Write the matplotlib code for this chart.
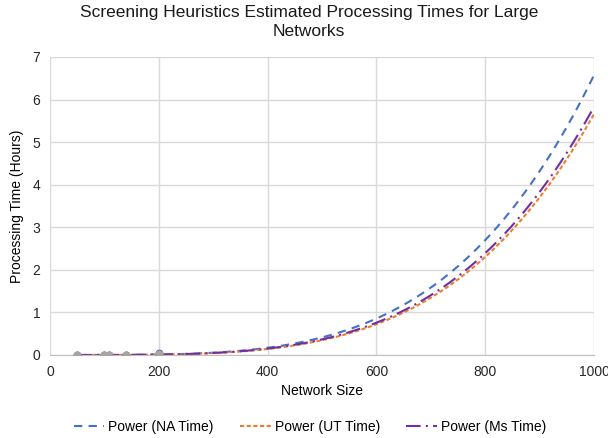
import numpy as np
import matplotlib.pyplot as plt

plt.rcParams['font.family'] = ['Liberation Sans', 'DejaVu Sans']

# measured points (small networks)
sizes = [50, 100, 108, 140, 200]
na_time = [0.001, 0.002, 0.003, 0.006, 0.05]
ut_time = [0.001, 0.002, 0.002, 0.005, 0.02]
ms_time = [0.001, 0.001, 0.002, 0.004, 0.012]

# trendline values
trend_x = [400, 600, 800, 1000]
na_trend = [0.17, 0.85, 2.71, 6.57]
ut_trend = [0.14, 0.73, 2.34, 5.57]
ms_trend = [0.15, 0.76, 2.40, 5.81]

def power_fit(x, y):
    b, loga = np.polyfit(np.log(x), np.log(y), 1)
    return np.exp(loga), b

xs = np.linspace(50, 1000, 300)

fig = plt.figure(figsize=(6.08, 4.38), dpi=100)
ax = fig.add_axes([50/608, 1 - 355/438, 544/608, 298/438])

ax.scatter(sizes, na_time, s=22, color='#4472C4', zorder=3)
ax.scatter(sizes, ut_time, s=22, color='#ED7D31', zorder=3)
ax.scatter(sizes, ms_time, s=22, color='#A5A5A5', zorder=4)

a, b = power_fit(trend_x, na_trend)
ax.plot(xs, a * xs**b, color='#4472C4', lw=1.5, dashes=(4, 3), label='Power (NA Time)')
a, b = power_fit(trend_x, ut_trend)
ax.plot(xs, a * xs**b, color='#ED7D31', lw=1.5, dashes=(2, 1.2), label='Power (UT Time)')
a, b = power_fit(trend_x, ms_trend)
ax.plot(xs, a * xs**b, color='#7030A0', lw=1.5, dashes=(7, 2.5, 1, 2.5), label='Power (Ms Time)')

ax.set_xlim(0, 1000)
ax.set_ylim(0, 7)
ax.set_xticks(range(0, 1001, 200))
ax.set_yticks(range(0, 8))
ax.grid(color='#D9D9D9', lw=1)
ax.set_axisbelow(True)
for s in ['top', 'right', 'left']:
    ax.spines[s].set_visible(False)
ax.spines['bottom'].set_color('#BFBFBF')
ax.tick_params(length=0, labelsize=10, colors='#262626', pad=7)

ax.set_xlabel('Network Size', fontsize=10, color='#000000', labelpad=4)
ax.set_ylabel('Processing Time (Hours)', fontsize=10, color='#000000', labelpad=6)
fig.text(309/608, 1 - 5/438, 'Screening Heuristics Estimated Processing Times for Large\nNetworks',
         ha='center', va='top', fontsize=12.5, color='#1a1a1a', linespacing=1.3)

fig.legend(loc='center', bbox_to_anchor=(310/608, 1 - 427/438), ncol=3, frameon=False,
           fontsize=10, handlelength=2.2, handletextpad=0.3, columnspacing=1.9)

fig.savefig('out.png', dpi=100)
